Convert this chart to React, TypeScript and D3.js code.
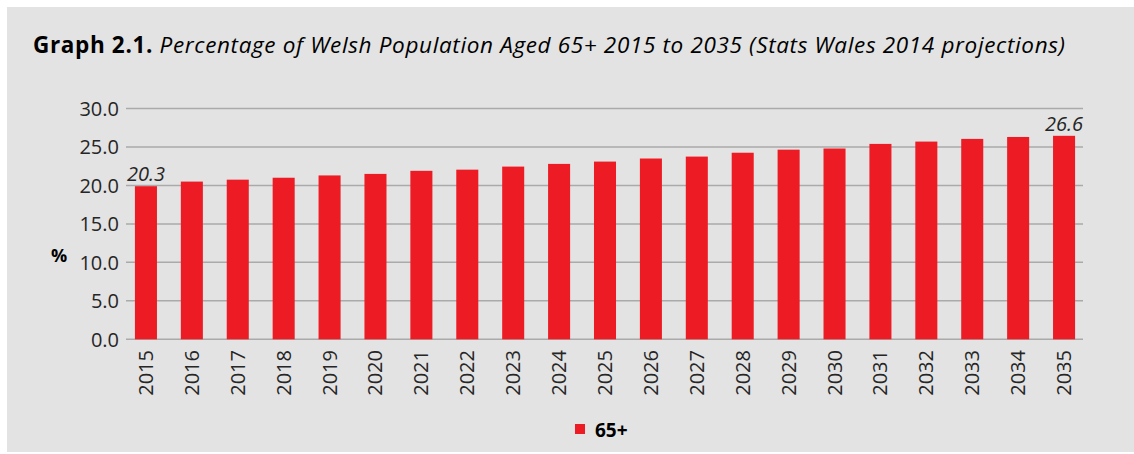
import React from "react";
import * as d3 from "d3";

const years = ["2015","2016","2017","2018","2019","2020","2021","2022","2023","2024","2025","2026","2027","2028","2029","2030","2031","2032","2033","2034","2035"];
const share65 = [19.9,20.5,20.75,21.0,21.3,21.5,21.9,22.05,22.45,22.8,23.1,23.5,23.75,24.25,24.65,24.8,25.4,25.7,26.05,26.3,26.45];
const yTicks = [0,5,10,15,20,25,30];
const dataLabels = [{ year: "2015", text: "20.3" }, { year: "2035", text: "26.6" }];
const seriesName = "65+";
const titleBold = "Graph 2.1.";
const titleItalic = " Percentage of Welsh Population Aged 65+ 2015 to 2035 (Stats Wales 2014 projections)";

const W = 1134, H = 454;
const RED = "#ED1C24";
const FONT = "'Open Sans', sans-serif";

export default function App() {
  const x = d3.scaleBand<string>().domain(years).range([123, 1087]).padding(0);
  const y = d3.scaleLinear().domain([0, 30]).range([339.3, 108.5]);
  const barW = x.bandwidth() * 0.48;
  const gx0 = 126, gx1 = 1083;
  return (
    <svg width={W} height={H} style={{ position: "absolute", left: 0, top: 0 }}>
      <rect x={0} y={0} width={W} height={H} fill="#ffffff" />
      <rect x={7} y={7} width={W - 7} height={445} fill="#E3E3E3" />
      <text x={33} y={53} fontFamily={FONT} fontSize={22.5} fill="#000" textLength={1032} lengthAdjust="spacing">
        <tspan fontWeight="bold">{titleBold}</tspan>
        <tspan fontStyle="italic">{titleItalic}</tspan>
      </text>
      {yTicks.map((t) => (
        <g key={t}>
          <line x1={gx0} x2={gx1} y1={y(t)} y2={y(t)} stroke="#AAAAAA" strokeWidth={1.5} />
          <text x={119} y={y(t)} dy="0.36em" textAnchor="end" fontFamily={FONT} fontSize={20} fill="#262626">
            {d3.format(".1f")(t)}
          </text>
        </g>
      ))}
      <text x={59} y={262} textAnchor="middle" fontFamily={FONT} fontSize={18} fontWeight="bold" fill="#000">%</text>
      {years.map((yr, i) => {
        const cx = (x(yr) as number) + x.bandwidth() / 2;
        return (
          <g key={yr}>
            <rect x={cx - barW / 2} y={y(share65[i])} width={barW} height={y(0) - y(share65[i])} fill={RED} />
            <text transform={`translate(${cx + 7},350) rotate(-90)`} textAnchor="end" fontFamily={FONT} fontSize={20} fill="#262626">
              {yr}
            </text>
          </g>
        );
      })}
      {dataLabels.map((d) => {
        const i = years.indexOf(d.year);
        const cx = (x(d.year) as number) + x.bandwidth() / 2;
        return (
          <text key={d.year} x={cx} y={y(share65[i]) - 5} textAnchor="middle" fontFamily={FONT} fontSize={20} fontStyle="italic" fill="#262626">
            {d.text}
          </text>
        );
      })}
      <rect x={575} y={424} width={10} height={10} fill={RED} />
      <text x={595} y={437} fontFamily={FONT} fontSize={19} fontWeight="bold" fill="#000">{seriesName}</text>
    </svg>
  );
}
